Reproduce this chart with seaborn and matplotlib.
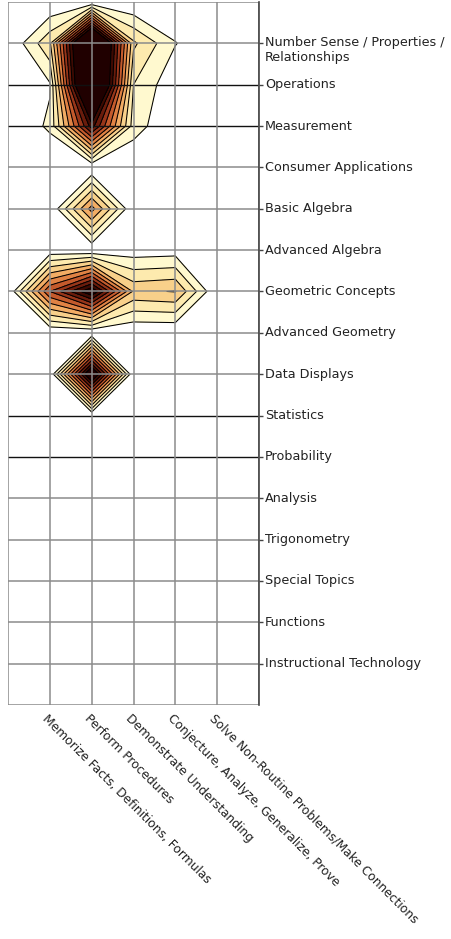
import numpy as np
import matplotlib
matplotlib.use("Agg")
import matplotlib.pyplot as plt
import matplotlib.transforms as mtransforms
from matplotlib.colors import from_levels_and_colors
import seaborn as sns

# Темы (строки) и уровни когнитивных требований (столбцы)
topics = [
    "Number Sense / Properties /\nRelationships", "Operations", "Measurement",
    "Consumer Applications", "Basic Algebra", "Advanced Algebra",
    "Geometric Concepts", "Advanced Geometry", "Data Displays", "Statistics",
    "Probability", "Analysis", "Trigonometry", "Special Topics", "Functions",
    "Instructional Technology",
]
demands = [
    "Memorize Facts, Definitions, Formulas", "Perform Procedures",
    "Demonstrate Understanding", "Conjecture, Analyze, Generalize, Prove",
    "Solve Non-Routine Problems/Make Connections",
]

# Доля времени по темам (в единицах шага контура), по столбцам demands
number_sense = [2.8, 16.0, 3.2, 1.05, 0.0]
operations = [0.9, 16.0, 2.0, 0.2, 0.0]
measurement = [1.2, 9.5, 1.5, 0.0, 0.0]
consumer_apps = [0.0, 0.0, 0.0, 0.0, 0.0]
basic_algebra = [0.0, 5.4, 0.0, 0.0, 0.0]
advanced_algebra = [0.3, 0.1, 0.4, 0.5, 0.0]
geometric = [7.0, 11.0, 3.8, 4.05, 0.0]
advanced_geometry = [0.0, 0.0, 0.0, 0.0, 0.0]
data_displays = [0.0, 12.0, 0.0, 0.0, 0.0]
empty_row = [0.0, 0.0, 0.0, 0.0, 0.0]

rows = [number_sense, operations, measurement, consumer_apps, basic_algebra,
        advanced_algebra, geometric, advanced_geometry, data_displays] + [empty_row] * 7

levels = np.arange(1, 11)
band_colors = ["#FFF9CF", "#FDEAAE", "#F8D08A", "#F2AC64", "#E08244",
               "#C45A2C", "#98361A", "#6A1C0C", "#3E0A02", "#200000"]

sns.set_style("white")
plt.rcParams["font.family"] = ["DejaVu Sans"]

# Сетка с нулевой рамкой вокруг данных
Z = np.zeros((len(topics) + 2, len(demands) + 2))
Z[1:-1, 1:-1] = np.array(rows)
X, Y = np.meshgrid(np.arange(Z.shape[1]), np.arange(Z.shape[0]))

cmap, norm = from_levels_and_colors(levels, sns.color_palette(band_colors), extend="max")

fig = plt.figure(figsize=(4.51, 9.39), dpi=100)
W, H = 451, 939
ax = fig.add_axes([8 / W, 1 - 705 / H, (259 - 8) / W, (705 - 2) / H])

ax.contourf(X, Y, Z, levels=levels, cmap=cmap, norm=norm, extend="max", zorder=1)
ax.contour(X, Y, Z, levels=levels, colors="black", linewidths=0.75, zorder=2)

ax.set_xlim(0, Z.shape[1] - 1)
ax.set_ylim(Z.shape[0] - 1, 0)

# Линии сетки поверх контуров
dark_rows = {2, 3, 10, 11}
for yy in range(Z.shape[0]):
    if yy in dark_rows:
        ax.axhline(yy, color="#111111", lw=1.0, zorder=3)
    else:
        ax.axhline(yy, color="#8c8c8c", lw=1.3, alpha=0.85, zorder=3)
for xx in range(Z.shape[1]):
    ax.axvline(xx, color="#8c8c8c", lw=1.3, alpha=0.85, zorder=3)

for s in ax.spines.values():
    s.set_visible(False)
ax.spines["right"].set_visible(True)
ax.spines["right"].set_color("#444444")
ax.spines["right"].set_linewidth(1.2)
ax.spines["right"].set_zorder(4)

ax.set_xticks([])
ax.yaxis.tick_right()
ax.set_yticks(np.arange(1, len(topics) + 1))
ax.set_yticklabels([])
ax.tick_params(axis="y", length=3, width=1, color="#444444")

txt_color = "#222222"
ylab = mtransforms.blended_transform_factory(ax.transAxes, ax.transData)
for i, t in enumerate(topics):
    if "\n" in t:
        ax.text(1.024, i + 1 - 0.17, t, transform=ylab, fontsize=9.2, color=txt_color,
                ha="left", va="top", linespacing=1.2, clip_on=False)
    else:
        ax.text(1.024, i + 1, t, transform=ylab, fontsize=9.2, color=txt_color,
                ha="left", va="center", clip_on=False)

xlab = mtransforms.offset_copy(ax.transData, fig=fig, x=-1, y=-7, units="dots")
for j, d in enumerate(demands):
    ax.text(j + 1, Z.shape[0] - 1, d, transform=xlab, fontsize=8.8, color=txt_color,
            ha="left", va="top", rotation=-45, rotation_mode="anchor", clip_on=False)

fig.savefig("out.png", dpi=100)
